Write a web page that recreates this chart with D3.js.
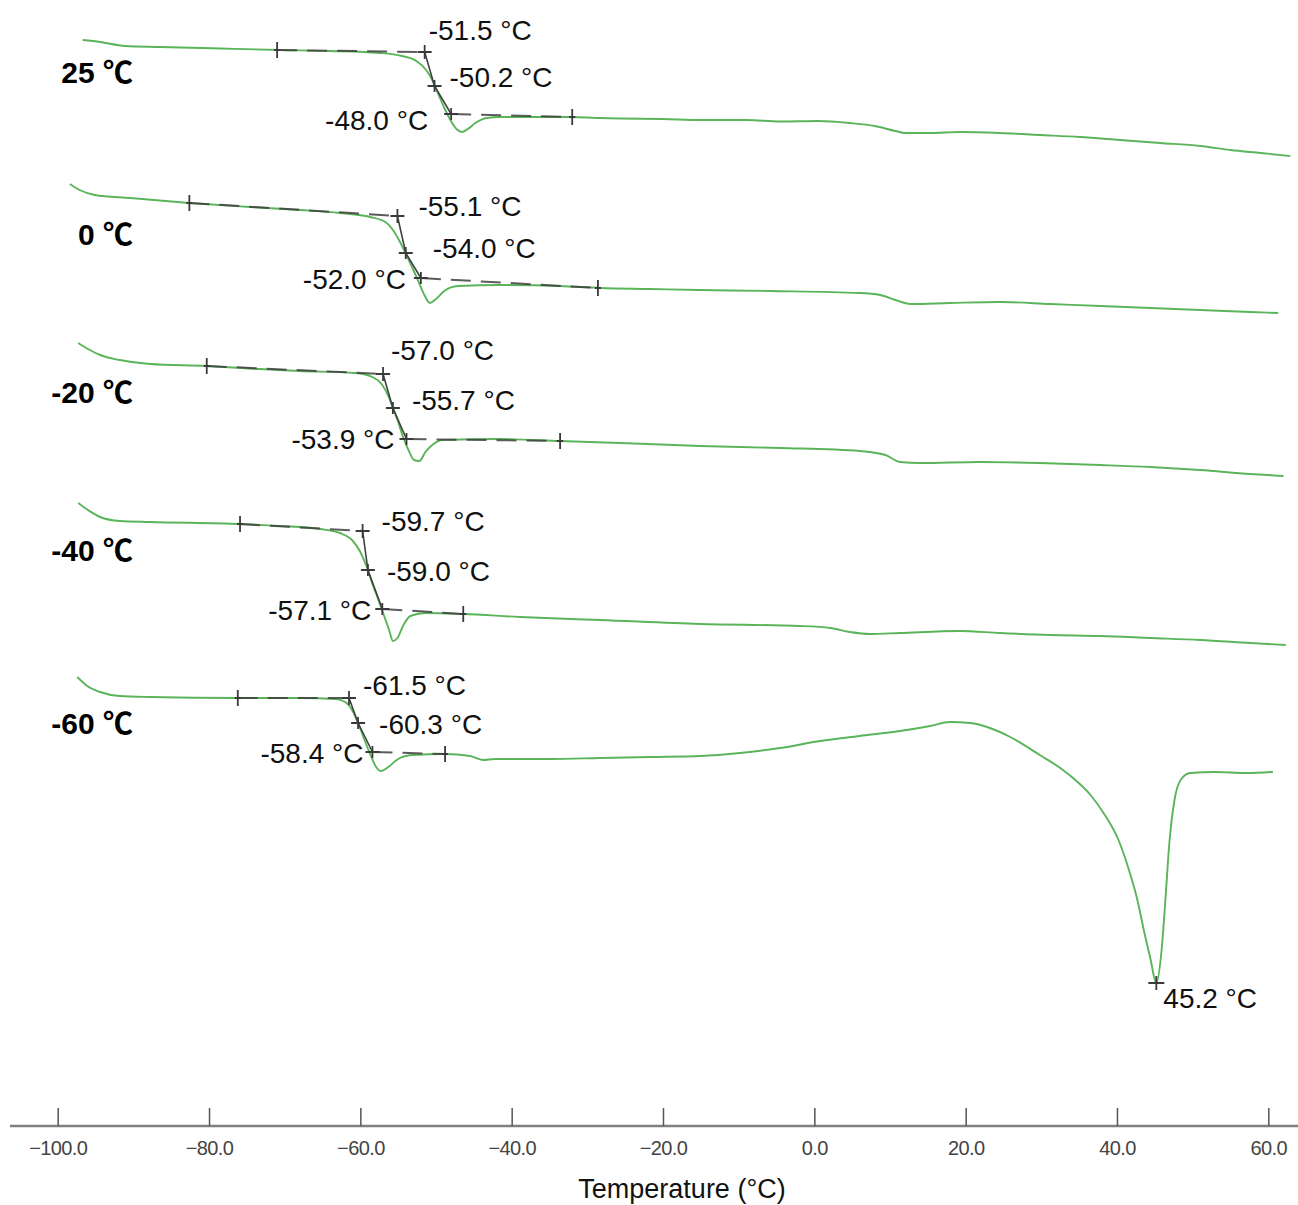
<!DOCTYPE html>
<html>
<head>
<meta charset="utf-8">
<script src="https://cdn.jsdelivr.net/npm/d3@7"></script>
<style>
  body { margin: 0; background: #fff; }
  text { font-family: "Liberation Sans", Arial, "Noto Sans CJK SC", sans-serif; }
</style>
</head>
<body>
<div id="chart"></div>
<script>
// DSC curves, [temperature °C, heat flow (a.u.)]
var trace25 = [[-96.7,-4.0],[-94.4,-4.2],[-91.1,-4.6],[-86.5,-4.7],[-78.5,-4.85],[-70.6,-5.0],[-64.0,-5.1],[-57.4,-5.3],
  [-54.5,-5.6],[-52.6,-6.1],[-51.3,-7.0],[-50.5,-8.0],[-49.7,-9.4],[-48.9,-10.8],[-48.1,-12.0],[-47.3,-12.9],[-46.6,-13.2],
  [-45.8,-12.9],[-44.8,-12.3],[-43.3,-11.8],[-41.5,-11.7],[-32.3,-11.7],[-28.5,-11.8],[-25.7,-11.85],[-20.0,-11.9],
  [-15.1,-12.0],[-9.0,-12.0],[-4.5,-12.15],[0.5,-12.1],[4.7,-12.3],[8.0,-12.6],[10.7,-13.1],[12.0,-13.3],[15.3,-13.3],
  [19.2,-13.2],[24.5,-13.3],[29.8,-13.5],[35.1,-13.7],[40.4,-14.0],[45.7,-14.3],[51.0,-14.6],[55.0,-15.0],[59.0,-15.3],[62.9,-15.6]];
var trace0 = [[-98.4,-18.4],[-97.1,-19.0],[-95.1,-19.5],[-90.4,-19.8],[-82.6,-20.3],[-74.6,-20.7],[-68.0,-21.0],[-62.7,-21.3],
  [-58.7,-21.7],[-56.7,-22.2],[-55.7,-23.0],[-54.9,-24.0],[-54.1,-25.2],[-53.3,-26.5],[-52.4,-28.0],[-51.6,-29.4],[-50.8,-30.3],
  [-50.0,-29.9],[-48.9,-29.1],[-47.1,-28.6],[-41.5,-28.5],[-33.6,-28.6],[-28.3,-28.8],[-21.7,-28.9],[-15.1,-29.0],[-5.8,-29.1],
  [6.0,-29.3],[8.7,-29.5],[10.7,-30.0],[12.7,-30.4],[17.9,-30.3],[24.5,-30.2],[31.2,-30.4],[37.8,-30.6],[44.4,-30.8],
  [51.0,-31.0],[57.6,-31.2],[61.3,-31.3]];
var traceM20 = [[-97.3,-34.3],[-96.0,-34.9],[-94.4,-35.5],[-91.8,-36.0],[-87.8,-36.4],[-80.3,-36.6],[-73.3,-36.9],[-68.0,-37.1],
  [-60.7,-37.3],[-58.4,-37.7],[-57.1,-38.5],[-56.3,-39.6],[-55.7,-40.8],[-55.0,-42.2],[-54.4,-43.6],[-53.7,-44.9],[-52.9,-46.0],
  [-52.2,-46.1],[-51.4,-45.2],[-50.5,-44.5],[-49.2,-44.0],[-41.5,-43.9],[-33.6,-44.1],[-25.7,-44.3],[-15.1,-44.6],[-4.5,-44.8],
  [6.0,-45.1],[9.4,-45.5],[11.3,-46.2],[14.0,-46.3],[21.9,-46.2],[29.8,-46.3],[37.8,-46.5],[44.4,-46.7],[51.0,-47.0],
  [57.6,-47.4],[62.0,-47.6]];
var traceM40 = [[-97.3,-50.3],[-96.0,-51.0],[-94.4,-51.7],[-91.8,-52.1],[-87.8,-52.2],[-75.9,-52.4],[-70.6,-52.6],[-65.3,-52.9],
  [-62.7,-53.3],[-61.1,-54.0],[-60.0,-55.2],[-59.2,-56.6],[-58.5,-58.2],[-57.7,-59.8],[-56.9,-61.5],[-56.2,-63.0],[-55.7,-64.1],
  [-55.1,-63.8],[-54.3,-62.5],[-53.4,-61.6],[-51.4,-61.3],[-46.4,-61.4],[-38.9,-61.7],[-28.3,-62.0],[-15.1,-62.4],[-1.9,-62.6],
  [2.1,-62.8],[4.7,-63.2],[7.4,-63.4],[11.3,-63.3],[19.2,-63.1],[24.5,-63.3],[31.2,-63.5],[37.8,-63.6],[44.4,-63.8],
  [51.0,-64.0],[57.6,-64.3],[62.3,-64.5]];
var traceM60 = [[-97.4,-67.7],[-96.1,-68.6],[-94.4,-69.2],[-91.8,-69.6],[-87.8,-69.7],[-76.2,-69.8],[-68.0,-69.8],[-63.3,-69.9],
  [-62.0,-70.2],[-61.1,-71.0],[-60.3,-72.3],[-59.5,-73.9],[-58.7,-75.4],[-58.0,-76.6],[-57.3,-77.1],[-56.3,-76.7],[-55.0,-75.9],
  [-53.2,-75.5],[-48.8,-75.4],[-45.5,-75.6],[-43.8,-76.0],[-42.2,-75.9],[-34.9,-75.9],[-28.3,-75.8],[-21.7,-75.7],[-15.1,-75.6],
  [-9.8,-75.3],[-4.5,-74.8],[0.8,-74.1],[6.0,-73.6],[11.3,-73.1],[15.3,-72.6],[17.9,-72.2],[20.6,-72.3],[23.2,-72.8],
  [25.9,-73.7],[29.8,-75.5],[32.5,-76.8],[34.5,-78.0],[36.5,-79.5],[38.4,-81.5],[40.2,-84.0],[41.5,-86.8],[42.7,-90.0],
  [43.6,-93.2],[44.4,-95.8],[45.2,-98.3],[45.9,-95.0],[46.4,-90.0],[46.9,-84.5],[47.6,-80.0],[48.5,-77.9],[49.7,-77.3],
  [53.0,-77.2],[57.0,-77.3],[60.6,-77.2]];

var traces = [trace25, trace0, traceM20, traceM40, traceM60];
var conditionLabels = ["25", "0", "-20", "-40", "-60"];

// glass transition construction: [temperature, heat flow]
var baseStartPts = [[-71.0,-5.0],[-82.6,-20.3],[-80.3,-36.6],[-75.9,-52.4],[-76.2,-69.8]];
var onsetPts = [[-51.5,-5.2],[-55.1,-21.6],[-57.0,-37.4],[-59.7,-53.1],[-61.5,-69.8]];
var midPts = [[-50.2,-8.6],[-54.0,-25.3],[-55.7,-40.8],[-59.0,-57.0],[-60.3,-72.3]];
var endPts = [[-48.0,-11.4],[-52.0,-27.8],[-53.9,-43.9],[-57.1,-60.9],[-58.4,-75.2]];
var baseEndPts = [[-32.0,-11.7],[-28.6,-28.8],[-33.6,-44.1],[-46.4,-61.4],[-48.8,-75.4]];
var peakPt = [45.2, -98.3];

var xTicks = [-100, -80, -60, -40, -20, 0, 20, 40, 60];

// label offsets (px) relative to markers
var onsetOff = [[4,-22],[21,-10],[8,-24],[19,-10],[14,-13]];
var midOff = [[15,-9],[27,-5],[19,-8],[19,1],[21,1]];
var endOff = [[-23,6],[-15,1],[-12,0],[-11,1],[-9,1]];
var condLabelY = [72, 234, 392, 550, 723];

var width = 1298, height = 1205;
var svg = d3.select("#chart").append("svg")
    .attr("width", width)
    .attr("height", height);

var x = d3.scaleLinear().domain([-100, 60]).range([57.7, 1268.3]);
var y = d3.scaleLinear().domain([0, -110]).range([0, 1100]);

// axis
var axisY = 1126;
svg.append("line")
    .attr("x1", 10).attr("x2", 1298)
    .attr("y1", axisY).attr("y2", axisY)
    .attr("stroke", "#808080")
    .attr("stroke-width", 2.5);

var axis = svg.append("g")
    .attr("transform", `translate(0,${axisY})`)
    .call(d3.axisBottom(x)
        .tickValues(xTicks)
        .tickSizeInner(-18)
        .tickSizeOuter(0)
        .tickPadding(15)
        .tickFormat(d => d.toFixed(1).replace("-", "\u2212")));
axis.select(".domain").remove();
axis.selectAll(".tick line").attr("stroke", "#555").attr("stroke-width", 1.5);
axis.selectAll(".tick text")
    .attr("fill", "#444")
    .style("font-size", "20px")
    .style("letter-spacing", "-0.6px")
    .style("font-family", "'Liberation Sans', Arial, sans-serif");

svg.append("text")
    .attr("x", 682)
    .attr("y", 1198)
    .attr("text-anchor", "middle")
    .style("font-size", "27px")
    .attr("fill", "#111")
    .text("Temperature (\u00B0C)");

var line = d3.line()
    .x(d => x(d[0]))
    .y(d => y(d[1]))
    .curve(d3.curveMonotoneX);

// green curves
svg.append("g")
    .selectAll("path")
    .data(traces)
    .enter().append("path")
    .attr("d", line)
    .attr("fill", "none")
    .attr("stroke", "#5ab45a")
    .attr("stroke-width", 1.9);

// tangent construction
var constr = svg.append("g").attr("stroke", "#404040");
traces.forEach((tr, i) => {
    constr.append("line")
        .attr("x1", x(baseStartPts[i][0])).attr("y1", y(baseStartPts[i][1]))
        .attr("x2", x(onsetPts[i][0])).attr("y2", y(onsetPts[i][1]))
        .attr("stroke-width", 2)
        .attr("stroke-dasharray", "20,10")
        .attr("stroke-opacity", 0.85);
    constr.append("line")
        .attr("x1", x(endPts[i][0])).attr("y1", y(endPts[i][1]))
        .attr("x2", x(baseEndPts[i][0])).attr("y2", y(baseEndPts[i][1]))
        .attr("stroke-width", 2)
        .attr("stroke-dasharray", "20,10")
        .attr("stroke-opacity", 0.85);
    constr.append("polyline")
        .attr("points", [onsetPts[i], midPts[i], endPts[i]].map(p => x(p[0]) + "," + y(p[1])).join(" "))
        .attr("fill", "none")
        .attr("stroke-width", 1.6);
});

function plus(g, p, hw, hh) {
    var cx = x(p[0]), cy = y(p[1]);
    g.append("path")
        .attr("d", `M${cx - hw},${cy}H${cx + hw}M${cx},${cy - hh}V${cy + hh}`)
        .attr("stroke", "#3a3a3a")
        .attr("stroke-width", 1.8)
        .attr("fill", "none");
}

var marks = svg.append("g");
traces.forEach((tr, i) => {
    plus(marks, baseStartPts[i], 3, 8);
    plus(marks, baseEndPts[i], 3, 8);
    plus(marks, onsetPts[i], 7, 7);
    plus(marks, midPts[i], 7, 6);
    plus(marks, endPts[i], 7, 6);
});
plus(marks, peakPt, 8, 7);

// temperature labels
var fmt = t => t.toFixed(1) + " \u00B0C";
var labels = svg.append("g").style("font-size", "28px").attr("fill", "#111");
traces.forEach((tr, i) => {
    labels.append("text")
        .attr("x", x(onsetPts[i][0]) + onsetOff[i][0])
        .attr("y", y(onsetPts[i][1]) + onsetOff[i][1])
        .attr("dy", "0.35em")
        .text(fmt(onsetPts[i][0]));
    labels.append("text")
        .attr("x", x(midPts[i][0]) + midOff[i][0])
        .attr("y", y(midPts[i][1]) + midOff[i][1])
        .attr("dy", "0.35em")
        .text(fmt(midPts[i][0]));
    labels.append("text")
        .attr("x", x(endPts[i][0]) + endOff[i][0])
        .attr("y", y(endPts[i][1]) + endOff[i][1])
        .attr("dy", "0.35em")
        .attr("text-anchor", "end")
        .text(fmt(endPts[i][0]));
});
labels.append("text")
    .attr("x", x(peakPt[0]) + 7)
    .attr("y", y(peakPt[1]) + 15)
    .attr("dy", "0.35em")
    .text(fmt(peakPt[0]));

// condition labels
var cond = svg.append("g")
    .selectAll("text")
    .data(conditionLabels)
    .enter().append("text")
    .attr("x", 133)
    .attr("y", (d, i) => condLabelY[i])
    .attr("dy", "0.35em")
    .attr("text-anchor", "end")
    .style("font-size", "30px")
    .style("font-weight", "bold")
    .attr("fill", "#000");
cond.append("tspan").text(d => d + " ");
cond.append("tspan")
    .style("font-family", "'Noto Sans CJK SC', sans-serif")
    .style("font-weight", "bold")
    .text("\u2103");
</script>
</body>
</html>
